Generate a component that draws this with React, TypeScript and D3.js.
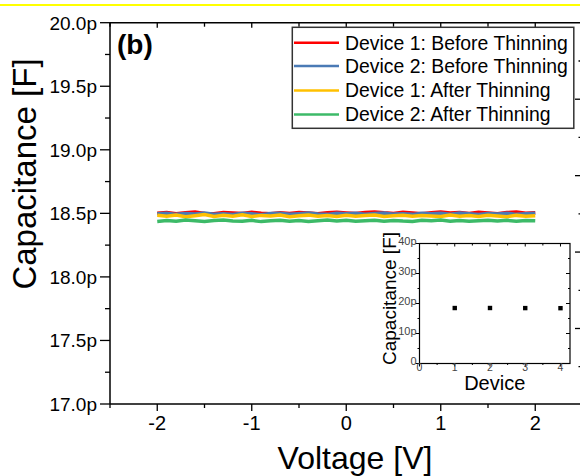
import { useEffect, useRef } from 'react';
import * as d3 from 'd3';

// sweep voltages [V]
const voltages = [
  -2.0, -1.9, -1.8, -1.7, -1.6, -1.5, -1.4, -1.3, -1.2, -1.1, -1.0,
  -0.9, -0.8, -0.7, -0.6, -0.5, -0.4, -0.3, -0.2, -0.1, 0.0,
  0.1, 0.2, 0.3, 0.4, 0.5, 0.6, 0.7, 0.8, 0.9, 1.0,
  1.1, 1.2, 1.3, 1.4, 1.5, 1.6, 1.7, 1.8, 1.9, 2.0,
];

// capacitance in pF
const dev1Before = [
  18.500, 18.507, 18.497, 18.504, 18.510, 18.499, 18.496, 18.506, 18.503, 18.498, 18.508,
  18.501, 18.497, 18.505, 18.499, 18.507, 18.502, 18.496, 18.505, 18.509, 18.503,
  18.498, 18.506, 18.511, 18.504, 18.499, 18.508, 18.503, 18.497, 18.505, 18.510,
  18.502, 18.507, 18.499, 18.508, 18.503, 18.497, 18.506, 18.510, 18.501, 18.505,
];
const dev2Before = [
  18.496, 18.501, 18.492, 18.498, 18.494, 18.502, 18.493, 18.497, 18.491, 18.500, 18.496,
  18.490, 18.498, 18.501, 18.493, 18.497, 18.502, 18.494, 18.492, 18.500, 18.496,
  18.501, 18.493, 18.498, 18.503, 18.494, 18.497, 18.492, 18.501, 18.496, 18.500,
  18.493, 18.502, 18.497, 18.491, 18.498, 18.494, 18.501, 18.492, 18.497, 18.500,
];
const dev1After = [
  18.485, 18.477, 18.487, 18.474, 18.482, 18.490, 18.476, 18.485, 18.478, 18.488, 18.475,
  18.484, 18.479, 18.487, 18.473, 18.481, 18.486, 18.477, 18.483, 18.475, 18.485,
  18.478, 18.483, 18.487, 18.476, 18.481, 18.485, 18.477, 18.484, 18.479, 18.475,
  18.486, 18.478, 18.483, 18.476, 18.485, 18.479, 18.474, 18.484, 18.478, 18.482,
];
const dev2After = [
  18.436, 18.443, 18.438, 18.447, 18.441, 18.435, 18.444, 18.448, 18.439, 18.437, 18.445,
  18.435, 18.441, 18.446, 18.438, 18.444, 18.436, 18.442, 18.447, 18.439, 18.445,
  18.437, 18.441, 18.446, 18.438, 18.444, 18.439, 18.436, 18.445, 18.442, 18.447,
  18.438, 18.444, 18.437, 18.442, 18.446, 18.439, 18.445, 18.438, 18.444, 18.441,
];

const seriesNames = [
  'Device 1: Before Thinning',
  'Device 2: Before Thinning',
  'Device 1: After Thinning',
  'Device 2: After Thinning',
];
const seriesColors = ['#ff0000', '#4a7ab5', '#ffc000', '#3dba68'];

const yTicks = [17.0, 17.5, 18.0, 18.5, 19.0, 19.5, 20.0];
const xTicks = [-2, -1, 0, 1, 2];

// inset
const insetDevices = [1, 2, 3, 4];
const insetCap = [18.49, 18.5, 18.47, 18.44];
const insetYTicks = [0, 10, 20, 30, 40];
const insetXTicks = [0, 1, 2, 3, 4];

const FONT = "'Liberation Sans', Arial, sans-serif";

const App = () => {
  const ref = useRef<SVGSVGElement | null>(null);

  useEffect(() => {
    const svg = d3.select(ref.current);
    svg.selectAll('*').remove();

    const left = 110, right = 582.5, top = 22.7, bottom = 404;
    const x = d3.scaleLinear().domain([-2.5, 2.5]).range([left, right]);
    const y = d3.scaleLinear().domain([17, 20]).range([bottom, top]);

    // yellow strip along the top
    svg.append('line').attr('x1', 0).attr('x2', 580).attr('y1', 5).attr('y2', 5)
      .attr('stroke', '#ffff00').attr('stroke-width', 2);

    // data
    const all = [dev1Before, dev2Before, dev1After, dev2After];
    const line = d3.line<number>().x((_, i) => x(voltages[i])).y(d => y(d));
    all.forEach((s, i) => {
      svg.append('path').datum(s).attr('d', line)
        .attr('fill', 'none').attr('stroke', seriesColors[i])
        .attr('stroke-width', 3.5).attr('stroke-linejoin', 'miter');
    });

    const g = svg.append('g').attr('font-family', FONT);

    // frame
    g.append('line').attr('x1', left).attr('x2', left).attr('y1', top).attr('y2', bottom)
      .attr('stroke', '#000').attr('stroke-width', 1.5);
    g.append('line').attr('x1', left).attr('x2', 600).attr('y1', bottom).attr('y2', bottom)
      .attr('stroke', '#000').attr('stroke-width', 1.5);
    g.append('line').attr('x1', left).attr('x2', 600).attr('y1', top).attr('y2', top)
      .attr('stroke', '#000').attr('stroke-width', 1.5);

    // y ticks
    d3.range(17, 20.001, 0.25).forEach(v => {
      const major = Math.abs(v * 2 - Math.round(v * 2)) < 1e-6;
      g.append('line').attr('x1', left - (major ? 10 : 5)).attr('x2', left)
        .attr('y1', y(v)).attr('y2', y(v)).attr('stroke', '#000').attr('stroke-width', 1.3);
    });
    yTicks.forEach(v => {
      g.append('text').attr('x', 97).attr('y', y(v)).attr('dy', '0.36em')
        .attr('text-anchor', 'end').attr('font-size', 19).text(`${v.toFixed(1)}p`);
    });

    // x ticks
    d3.range(-2.5, 2.501, 0.5).forEach(v => {
      const major = Math.abs(v - Math.round(v)) < 1e-6;
      g.append('line').attr('x1', x(v)).attr('x2', x(v)).attr('y1', bottom)
        .attr('y2', bottom + (major ? 7 : 4)).attr('stroke', '#000').attr('stroke-width', 1.3);
      g.append('line').attr('x1', x(v)).attr('x2', x(v)).attr('y1', top)
        .attr('y2', top + (major ? 5 : 4)).attr('stroke', '#000').attr('stroke-width', 1.3);
    });
    xTicks.forEach(v => {
      g.append('text').attr('x', x(v)).attr('y', 430).attr('text-anchor', 'middle')
        .attr('font-size', 20).text(v);
    });

    // neighbouring panel's axis ticks at the right edge
    const nb = d3.scaleLinear().domain([0, 8]).range([61, 366.7]);
    d3.range(0, 9).forEach(k => {
      g.append('line').attr('x1', 582 - (k % 2 ? 7 : 3.5)).attr('x2', 582)
        .attr('y1', nb(k)).attr('y2', nb(k)).attr('stroke', '#000').attr('stroke-width', 1.3);
    });

    // titles
    g.append('text').attr('transform', 'translate(35.5,174) rotate(-90)')
      .attr('text-anchor', 'middle').attr('font-size', 33).text('Capacitance [F]');
    g.append('text').attr('x', 355).attr('y', 469).attr('text-anchor', 'middle')
      .attr('font-size', 32).text('Voltage [V]');
    g.append('text').attr('x', 117).attr('y', 53.5).attr('font-size', 28)
      .attr('font-weight', 'bold').text('(b)');

    // legend
    const lg = g.append('g');
    lg.append('rect').attr('x', 292.3).attr('y', 27.3).attr('width', 281.5).attr('height', 101)
      .attr('fill', '#fff').attr('stroke', '#333').attr('stroke-width', 1.5);
    const rowY = [42.7, 66, 90.5, 114.5];
    seriesNames.forEach((n, i) => {
      lg.append('line').attr('x1', 294).attr('x2', 339).attr('y1', rowY[i]).attr('y2', rowY[i])
        .attr('stroke', seriesColors[i]).attr('stroke-width', 2.5);
      lg.append('text').attr('x', 345).attr('y', rowY[i]).attr('dy', '0.36em')
        .attr('font-size', 19.4).text(n);
    });

    // inset
    const ix = d3.scaleLinear().domain([0, 4.27]).range([419.5, 570]);
    const iy = d3.scaleLinear().domain([0, 40]).range([363.5, 243.5]);
    const ig = g.append('g');
    ig.append('rect').attr('x', ix(0)).attr('y', iy(40)).attr('width', ix(4.27) - ix(0))
      .attr('height', iy(0) - iy(40)).attr('fill', '#fff').attr('stroke', '#000').attr('stroke-width', 1.2);
    d3.range(0, 40.001, 5).forEach(v => {
      const major = v % 10 === 0;
      ig.append('line').attr('x1', ix(0) - (major ? 4 : 2)).attr('x2', ix(0))
        .attr('y1', iy(v)).attr('y2', iy(v)).attr('stroke', '#000').attr('stroke-width', 1);
      ig.append('line').attr('x1', ix(4.27) - (major ? 4 : 2)).attr('x2', ix(4.27))
        .attr('y1', iy(v)).attr('y2', iy(v)).attr('stroke', '#000').attr('stroke-width', 1);
    });
    d3.range(0, 4.01, 0.5).forEach(v => {
      const major = v % 1 === 0;
      ig.append('line').attr('x1', ix(v)).attr('x2', ix(v)).attr('y1', iy(0))
        .attr('y2', iy(0) + (major ? 3 : 1.5)).attr('stroke', '#000').attr('stroke-width', 1);
      ig.append('line').attr('x1', ix(v)).attr('x2', ix(v)).attr('y1', iy(40))
        .attr('y2', iy(40) + (major ? 3 : 2)).attr('stroke', '#000').attr('stroke-width', 1);
    });
    insetYTicks.forEach(v => {
      ig.append('text').attr('x', ix(0) - 3).attr('y', iy(v)).attr('dy', '0.1em')
        .attr('text-anchor', 'end').attr('font-size', 11).attr('fill', '#444')
        .text(v === 0 ? '0' : `${v}p`);
    });
    insetXTicks.forEach(v => {
      ig.append('text').attr('x', ix(v)).attr('y', 370.5).attr('text-anchor', 'middle')
        .attr('font-size', 10.5).attr('fill', '#444').text(v);
    });
    ig.selectAll('rect.pt').data(insetDevices).enter().append('rect').attr('class', 'pt')
      .attr('x', d => ix(d) - 2.2).attr('y', (_, i) => iy(insetCap[i]) - 2.2)
      .attr('width', 4.4).attr('height', 4.4).attr('fill', '#000');
    ig.append('text').attr('x', 494.7).attr('y', 390).attr('text-anchor', 'middle')
      .attr('font-size', 20).text('Device');
    ig.append('text').attr('transform', 'translate(396,298.5) rotate(-90)')
      .attr('text-anchor', 'middle').attr('font-size', 19).text('Capacitance [F]');
  }, []);

  return (
    <svg ref={ref} width={580} height={476}
      style={{ position: 'absolute', left: 0, top: 0, background: '#fff' }} />
  );
};

export default App;
